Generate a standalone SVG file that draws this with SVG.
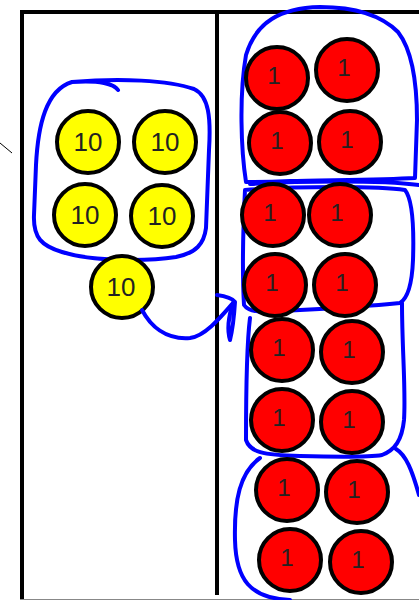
<svg xmlns="http://www.w3.org/2000/svg" width="419" height="600" viewBox="0 0 419 600">
<style>
.frame{stroke:#000;stroke-width:4;fill:none}
.ten circle{fill:#ffff00;stroke:#000;stroke-width:4}
.one circle{fill:#ff0000;stroke:#000;stroke-width:4}
.ten text,.one text{font-family:"Liberation Sans",Arial,sans-serif;font-size:26px;fill:#222;text-anchor:middle}
.one text{font-size:24px}
.loop{fill:none;stroke:#0000ff;stroke-width:4;stroke-linecap:round;stroke-linejoin:round}
</style>
<rect width="419" height="600" fill="#fff"/>
<g id="frame">
<path class="frame" d="M22,600 V12 H419"/>
<path class="frame" d="M217,12 V595"/>
<line x1="20" y1="599.5" x2="419" y2="599.5" stroke="#888" stroke-width="1"/>
<line x1="0" y1="143" x2="12" y2="153" stroke="#000" stroke-width="1"/>
</g>
<g id="loops">
<path class="loop" d="M118,90 C114,84 100,80 72,82 C46,90 38,125 36,165 L34,215 C33,238 42,246 62,252 C92,262 150,261 176,257 C196,253 204,244 206,228 L209,150 C211,118 209,96 194,89 C168,80 120,78 72,82"/>
<path class="loop" d="M246,182 C241,150 239,95 246,55 C256,22 280,8 320,7 C358,7 382,16 398,32 C412,50 417,80 417,120 L415,178 C380,180 320,180 290,181 C268,182 252,182 246,182 M250,184 C300,181 380,180 419,185"/>
<path class="loop" d="M245,190 C243,230 242,270 244,305 C250,314 265,312 300,310 C340,308 380,305 400,303 C408,298 412,285 413,260 C414,230 413,200 405,190 C380,186 300,186 245,190"/>
<path class="loop" d="M250,318 C246,350 246,400 246,440 C250,452 262,455 300,456 C340,457 370,457 382,455 C395,450 402,440 404,420 C406,390 402,350 402,303"/>
<path class="loop" d="M260,458 C240,472 234,500 235,540 C236,580 250,598 290,600 M396,449 C406,455 412,470 419,495"/>
</g>
<g id="tens">
<g id="ten1" class="ten"><circle cx="88" cy="142" r="31"/><text x="88" y="151">10</text></g>
<g id="ten2" class="ten"><circle cx="165" cy="142" r="31"/><text x="165" y="151">10</text></g>
<g id="ten3" class="ten"><circle cx="85" cy="215" r="31"/><text x="85" y="224">10</text></g>
<g id="ten4" class="ten"><circle cx="162" cy="216" r="31"/><text x="162" y="225">10</text></g>
<g id="ten5" class="ten"><circle cx="122" cy="287" r="31"/><text x="121" y="296">10</text></g>
</g>
<g id="ones">
<g id="one1" class="one"><circle cx="277" cy="78" r="31"/><text x="274" y="84">1</text></g>
<g id="one2" class="one"><circle cx="347" cy="70" r="31"/><text x="344" y="76">1</text></g>
<g id="one3" class="one"><circle cx="280" cy="143" r="31"/><text x="277" y="149">1</text></g>
<g id="one4" class="one"><circle cx="350" cy="142" r="31"/><text x="347" y="148">1</text></g>
<g id="one5" class="one"><circle cx="273" cy="215" r="31"/><text x="270" y="221">1</text></g>
<g id="one6" class="one"><circle cx="340" cy="215" r="31"/><text x="337" y="221">1</text></g>
<g id="one7" class="one"><circle cx="275" cy="285" r="31"/><text x="272" y="291">1</text></g>
<g id="one8" class="one"><circle cx="345" cy="285" r="31"/><text x="342" y="291">1</text></g>
<g id="one9" class="one"><circle cx="282" cy="350" r="31"/><text x="279" y="356">1</text></g>
<g id="one10" class="one"><circle cx="352" cy="352" r="31"/><text x="349" y="358">1</text></g>
<g id="one11" class="one"><circle cx="282" cy="420" r="31"/><text x="279" y="426">1</text></g>
<g id="one12" class="one"><circle cx="352" cy="422" r="31"/><text x="349" y="428">1</text></g>
<g id="one13" class="one"><circle cx="287" cy="490" r="31"/><text x="284" y="496">1</text></g>
<g id="one14" class="one"><circle cx="357" cy="492" r="31"/><text x="354" y="498">1</text></g>
<g id="one15" class="one"><circle cx="290" cy="560" r="31"/><text x="287" y="566">1</text></g>
<g id="one16" class="one"><circle cx="361" cy="562" r="31"/><text x="358" y="568">1</text></g>
</g>
<g id="connectors">
<path class="loop" d="M142,310 C150,325 165,340 190,338 C205,336 220,318 233,303"/>
<path class="loop" d="M217,295 C225,296 232,298 235,302 C234,318 232,332 230,340 C227,330 229,315 233,303"/>
</g>
</svg>
